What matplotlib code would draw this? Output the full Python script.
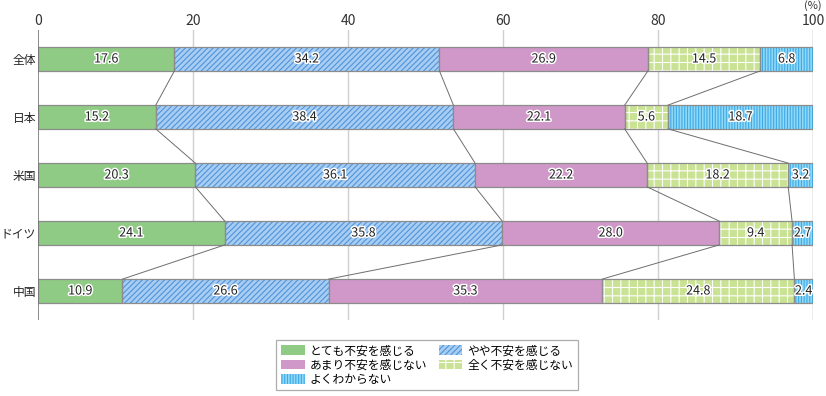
import numpy as np
import matplotlib
matplotlib.use("Agg")
import matplotlib.pyplot as plt
import matplotlib.patheffects as pe
from matplotlib.patches import Patch

plt.rcParams['font.family'] = ['Noto Sans CJK JP', 'DejaVu Sans']
plt.rcParams['hatch.linewidth'] = 0.8

# data
regions = ["全体", "日本", "米国", "ドイツ", "中国"]
series = ["とても不安を感じる", "やや不安を感じる", "あまり不安を感じない",
          "全く不安を感じない", "よくわからない"]
very_anxious = [17.6, 15.2, 20.3, 24.1, 10.9]
somewhat_anxious = [34.2, 38.4, 36.1, 35.8, 26.6]
not_very_anxious = [26.9, 22.1, 22.2, 28.0, 35.3]
not_at_all = [14.5, 5.6, 18.2, 9.4, 24.8]
unknown = [6.8, 18.7, 3.2, 2.7, 2.4]

values = np.array([very_anxious, somewhat_anxious, not_very_anxious,
                   not_at_all, unknown])

# face colour, hatch, hatch colour
styles = [
    ("#8FCB85", None, None),
    ("#A8CDF2", "//////", "#4F93DA"),
    ("#CF98C8", None, None),
    ("#C9E294", "++", "#FFFFFF"),
    ("#8FD9F8", "||||||", "#3FA9E6"),
]

fig = plt.figure(figsize=(8.26, 3.96), dpi=100)
ax = fig.add_axes([38 / 826, 1 - 320 / 396, 775 / 826, 290 / 396])

y = np.arange(len(regions))
height = 0.41
left = np.zeros(len(regions))
bounds = [left.copy()]
for i, name in enumerate(series):
    face, hatch, hcol = styles[i]
    if hatch:
        ax.barh(y, values[i], left=left, height=height, color=face,
                hatch=hatch, edgecolor=hcol, linewidth=0, zorder=2)
        ax.barh(y, values[i], left=left, height=height, fill=False,
                edgecolor="#8C8C8C", linewidth=0.9, zorder=3)
    else:
        ax.barh(y, values[i], left=left, height=height, color=face,
                edgecolor="#8C8C8C", linewidth=0.9, zorder=3)
    for j in range(len(regions)):
        ax.text(left[j] + values[i][j] / 2, y[j], f"{values[i][j]:.1f}",
                ha="center", va="center", fontsize=9, color="#222222",
                zorder=5,
                path_effects=[pe.withStroke(linewidth=2.2, foreground="white")])
    left = left + values[i]
    bounds.append(left.copy())

# connector lines between bars
for b in bounds[1:-1]:
    for j in range(len(regions) - 1):
        ax.plot([b[j], b[j + 1]], [y[j] + height / 2, y[j + 1] - height / 2],
                color="#6E6E6E", linewidth=0.7, zorder=4)

ax.set_xlim(0, 100)
ax.set_ylim(len(regions) - 0.5, -0.5)
ax.set_xticks([0, 20, 40, 60, 80, 100])
ax.xaxis.tick_top()
ax.tick_params(axis="x", length=0, labelsize=10, colors="#333333", pad=1.5)
ax.set_yticks(y)
ax.set_yticklabels(regions)
ax.tick_params(axis="y", length=0, labelsize=8.5, colors="#222222", pad=1.5)
for x in [20, 40, 60, 80]:
    ax.axvline(x, color="#D0D0D0", linewidth=1, zorder=1)
ax.axvline(100, color="#A0A0A0", linewidth=1, zorder=1)
ax.axvline(0, color="#777777", linewidth=1.2, zorder=6)
for s in ax.spines.values():
    s.set_visible(False)
fig.text(813 / 826, 1 - 0.5 / 396, "(%)", ha="center", va="top",
         fontsize=8, color="#333333")

handles = []
for i, name in enumerate(series):
    face, hatch, hcol = styles[i]
    handles.append(Patch(facecolor=face, hatch=hatch,
                         edgecolor=hcol if hatch else "#8C8C8C",
                         linewidth=0, label=name))
order = [0, 2, 4, 1, 3]
leg = fig.legend([handles[k] for k in order], [series[k] for k in order],
                 ncol=2, loc="center", bbox_to_anchor=(427 / 826, 1 - 365 / 396),
                 fontsize=8.5, frameon=True, fancybox=False, edgecolor="#999999",
                 handlelength=2.0, handleheight=0.9, handletextpad=0.4,
                 columnspacing=1.0, labelspacing=0.1, borderpad=0.4)
leg.get_frame().set_linewidth(0.9)

fig.savefig("out.png", dpi=100)
